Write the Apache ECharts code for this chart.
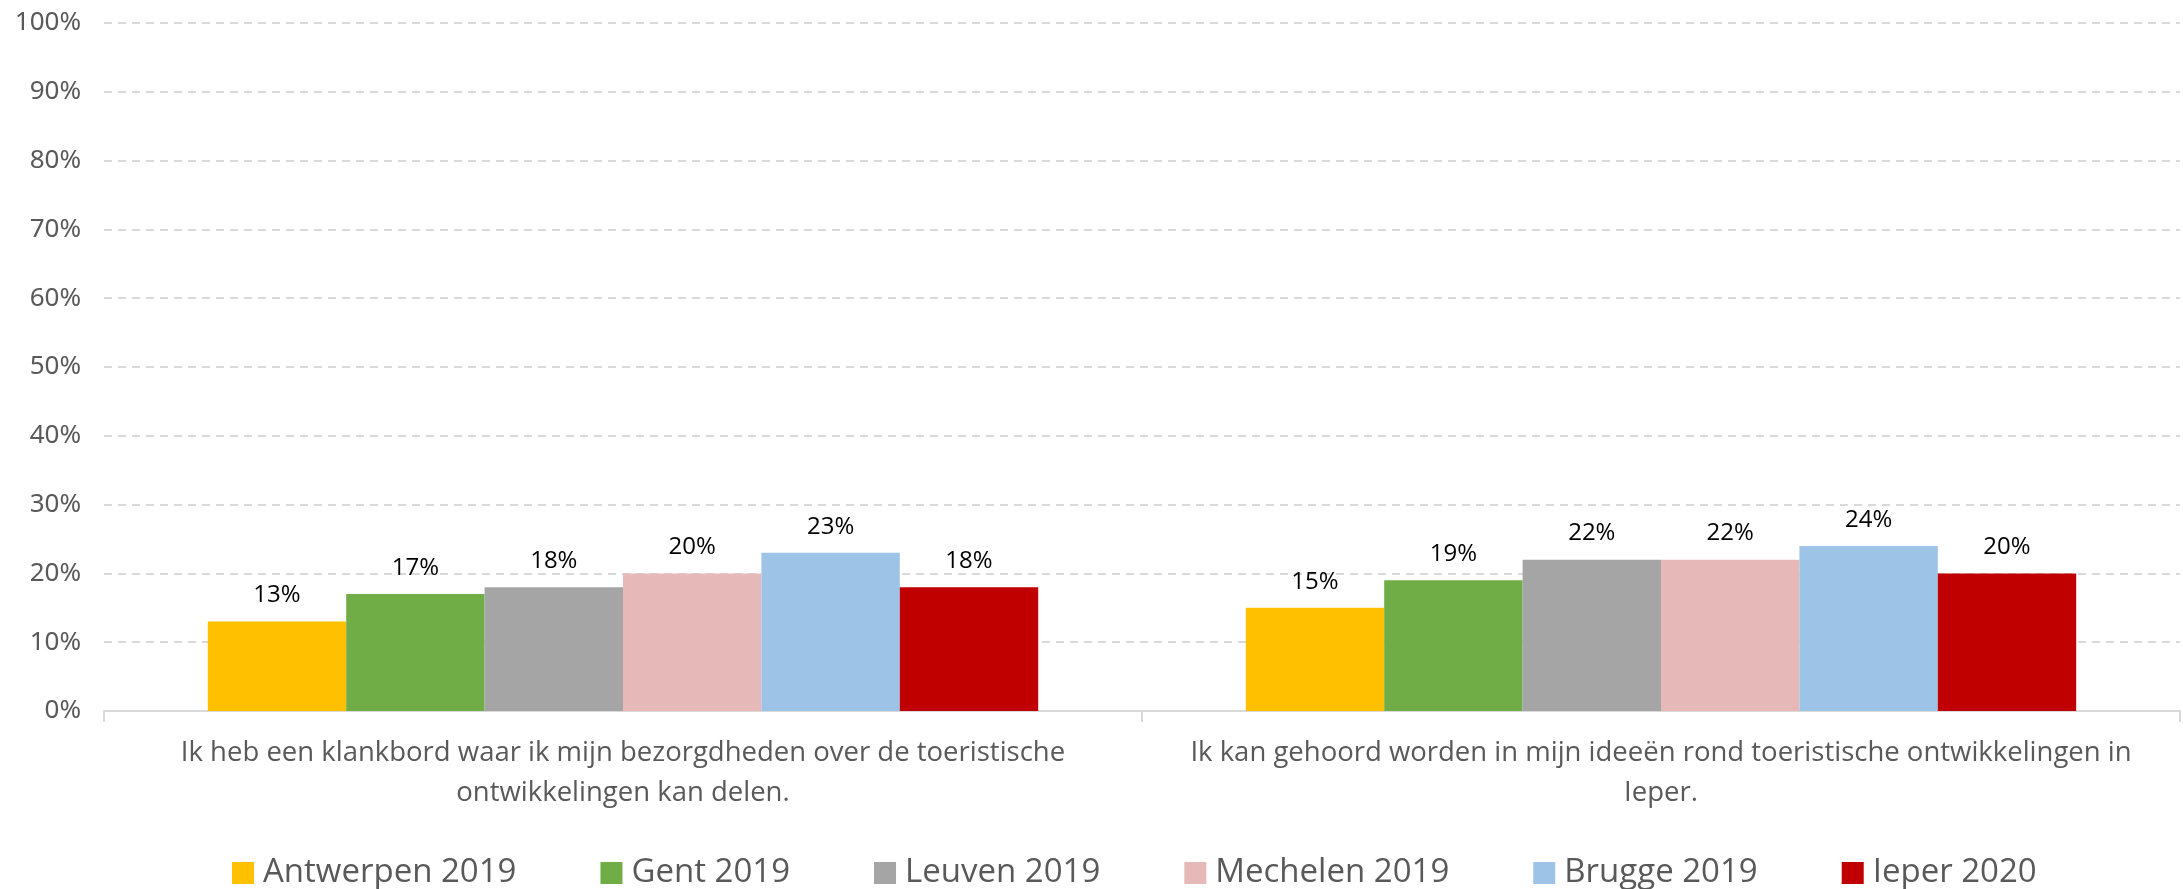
<!DOCTYPE html>
<html>
<head>
<meta charset="utf-8">
<title>Klankbord</title>
<script src="https://cdn.jsdelivr.net/npm/echarts@6/dist/echarts.min.js"></script>
<style>
	html, body { margin: 0; padding: 0; background: #fff; }
	#chart { width: 2183px; height: 889px; }
</style>
</head>
<body>
<div id="chart"></div>
<script>
	// categorieen (regelbreuk zoals in de grafiek)
	var categories = [
		'Ik heb een klankbord waar ik mijn bezorgdheden over de toeristische\nontwikkelingen kan delen.',
		'Ik kan gehoord worden in mijn ideeën rond toeristische ontwikkelingen in\nIeper.'
	];
	var seriesNames = ['Antwerpen 2019', 'Gent 2019', 'Leuven 2019', 'Mechelen 2019', 'Brugge 2019', 'Ieper 2020'];
	var antwerpen = [13, 15];
	var gent = [17, 19];
	var leuven = [18, 22];
	var mechelen = [20, 22];
	var brugge = [23, 24];
	var ieper = [18, 20];
	var colors = ['#FFC000', '#70AD47', '#A5A5A5', '#E6B9B8', '#9DC3E6', '#C00000'];

	var values = [antwerpen, gent, leuven, mechelen, brugge, ieper];
	var series = [];
	for(var i = 0; i < seriesNames.length; i++) {
		series.push({
			name: seriesNames[i],
			type: 'bar',
			barGap: 0,
			barCategoryGap: '20%',
			data: values[i],
			itemStyle: { color: colors[i] },
			label: {
				show: true,
				position: 'top',
				distance: 14,
				formatter: '{c}%',
				color: '#000',
				fontFamily: 'Open Sans',
				fontSize: 24
			}
		});
	}

	var chart = echarts.init(document.getElementById('chart'));
	chart.setOption({
		animation: false,
		backgroundColor: '#fff',
		grid: { left: 104, right: 3, top: 23, bottom: 178 },
		legend: {
			data: seriesNames,
			top: 853,
			left: 232,
			padding: 0,
			icon: 'rect',
			itemWidth: 22,
			itemHeight: 22,
			itemGap: 84,
			textStyle: {
				color: '#595959',
				fontFamily: 'Open Sans',
				fontSize: 33,
				lineHeight: 40,
				padding: [0, 0, 0, 4]
			}
		},
		xAxis: {
			type: 'category',
			data: categories,
			axisLine: { lineStyle: { color: '#d9d9d9', width: 2 } },
			axisTick: { show: true, length: 11, lineStyle: { color: '#d9d9d9', width: 2 } },
			axisLabel: {
				interval: 0,
				margin: 22,
				color: '#595959',
				fontFamily: 'Open Sans',
				fontSize: 27.5,
				lineHeight: 40
			}
		},
		yAxis: {
			type: 'value',
			min: 0,
			max: 100,
			interval: 10,
			axisLine: { show: false },
			axisTick: { show: false },
			axisLabel: {
				margin: 23,
				formatter: '{value}%',
				color: '#595959',
				fontFamily: 'Noto Sans',
				fontSize: 26
			},
			splitLine: { lineStyle: { color: '#d9d9d9', width: 2, type: [8, 6] } }
		},
		series: series
	});
</script>
</body>
</html>
